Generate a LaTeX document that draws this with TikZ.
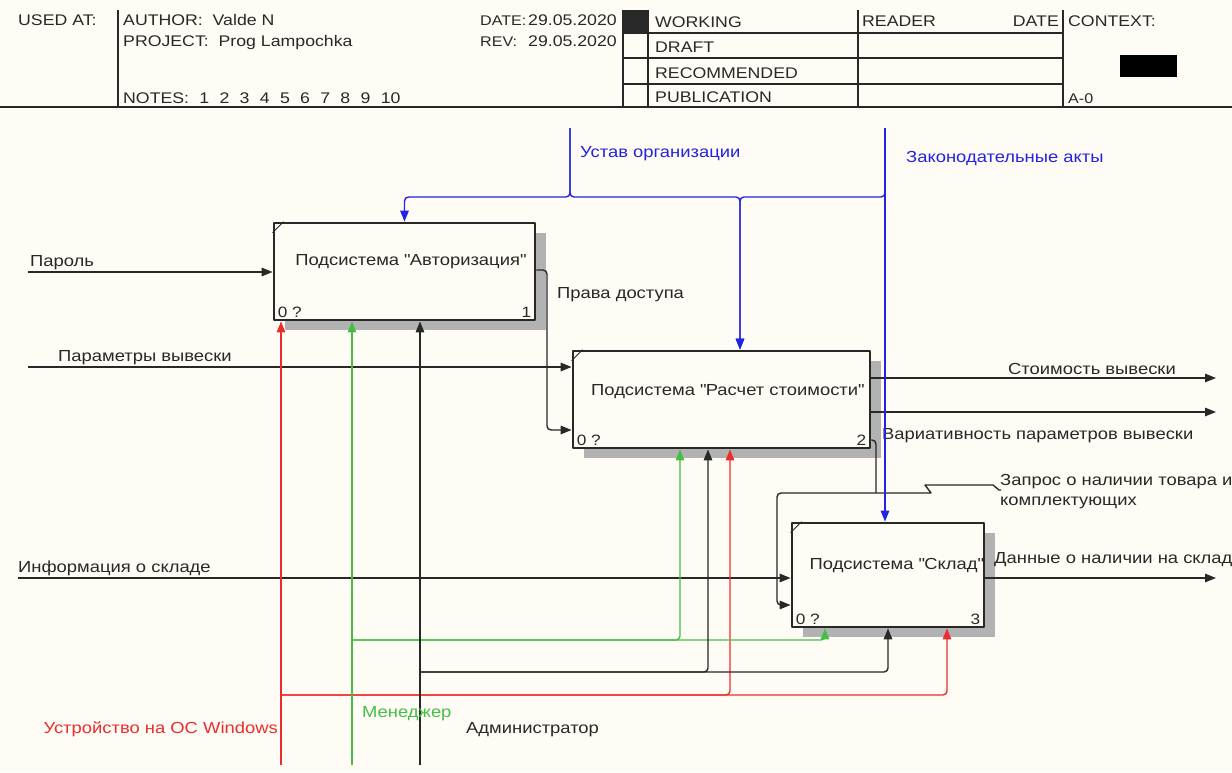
\documentclass[tikz,border=0pt]{standalone}
\usepackage{fontspec}
\setmainfont{Liberation Sans}[FakeStretch=1.15]
\usetikzlibrary{arrows.meta,shadows}
\definecolor{paper}{RGB}{254,252,245}
\definecolor{ink}{RGB}{40,40,40}
\definecolor{ctlblue}{RGB}{35,35,225}
\definecolor{mechred}{RGB}{235,45,45}
\definecolor{mechgreen}{RGB}{70,190,70}
\definecolor{shade}{RGB}{178,178,178}
\newcommand{\qq}{\textquotedbl{}}
\newcommand{\gap}{\hspace{10.3pt}}
\begin{document}
\begin{tikzpicture}[x=1pt, y=-1pt, line join=round, font=\fontsize{16}{19}\selectfont]
	\tikzset{
		func/.style={draw=ink, line width=2.8pt, fill=paper, inner sep=0pt,
			drop shadow={shadow xshift=11pt, shadow yshift=-10pt, opacity=1, fill=shade}},
		boxtitle/.style={text=ink, inner sep=0pt},
		boxnum/.style={text=ink, inner sep=0pt, font=\fontsize{15}{17}\selectfont},
		lbl/.style={text=ink, inner sep=0pt, anchor=base west},
		hdr/.style={lbl, font=\fontsize{15.4}{17}\selectfont},
		frame/.style={draw=ink, line width=1.2pt},
		flow/.style={draw=ink, line width=1.4pt, rounded corners=4pt, -{Triangle[length=11pt,width=8.5pt]}},
		ctl/.style={flow, draw=ctlblue},
		redflow/.style={flow, draw=mechred},
		greenflow/.style={flow, draw=mechgreen}
	}
	\fill[paper] (0,0) rectangle (1232,772);
	\useasboundingbox (0,0) rectangle (1232,772);
	% header
	\draw[frame] (0,107) -- (1232,107);
	\draw[frame] (118,10) -- (118,107);
	\draw[frame] (623,10) -- (623,107) (648,10) -- (648,107) (858,10) -- (858,107) (1063,10) -- (1063,107);
	\draw[frame] (623,33) -- (1063,33) (623,58) -- (1063,58) (623,84) -- (1063,84);
	\fill[ink] (624,10) rectangle (648,32);
	\fill[black] (1120,55) rectangle (1177,77);
	\node[hdr] (usedat) at (18,25) {USED AT:};
	\node[hdr] (author) at (123,25) {AUTHOR:\ \ Valde N};
	\node[hdr] (project) at (123,46) {PROJECT:\ \ Prog Lampochka};
	\node[hdr] (notes) at (123,103) {NOTES:\gap 1\gap 2\gap 3\gap 4\gap 5\gap 6\gap 7\gap 8\gap 9\gap 10};
	\node[hdr, font=\fontsize{14}{17}\selectfont] (date) at (480,25) {DATE:};
	\node[hdr, anchor=base east] (datev) at (617,25) {29.05.2020};
	\node[hdr, font=\fontsize{14}{17}\selectfont] (rev) at (480,46) {REV:};
	\node[hdr, anchor=base east] (revv) at (617,46) {29.05.2020};
	\node[hdr] (working) at (655,27) {WORKING};
	\node[hdr] (draft) at (655,52) {DRAFT};
	\node[hdr] (recom) at (655,78) {RECOMMENDED};
	\node[hdr] (public) at (655,102) {PUBLICATION};
	\node[hdr] (reader) at (862,26) {READER};
	\node[hdr, anchor=base east] (rdate) at (1059,26) {DATE};
	\node[hdr] (context) at (1068,26) {CONTEXT:};
	\node[hdr, font=\fontsize{14}{16}\selectfont] (node) at (1068,103) {A-0};
	% function boxes
	\node[func, minimum width=261pt, minimum height=97pt] (b1) at (404.5,271.5) {};
	\node[func, minimum width=297pt, minimum height=97pt] (b2) at (721.5,399.5) {};
	\node[func, minimum width=192pt, minimum height=104pt] (b3) at (888,575) {};
	\node[boxtitle] (t1) at ([yshift=9.5pt, xshift=6pt]b1.center) {Подсистема \qq Авторизация\qq};
	\node[boxtitle] (t2) at ([yshift=7.5pt, xshift=6pt]b2.center) {Подсистема \qq Расчет стоимости\qq};
	\node[boxtitle, anchor=east] (t3) at ([yshift=10pt, xshift=-2pt]b3.east) {Подсистема \qq Склад\qq};
	\foreach \b/\n in {b1/1, b2/2, b3/3} {
		\draw[ink, line width=1pt] ([yshift=-11pt]\b.north west) -- ([xshift=11pt]\b.north west);
		\node[boxnum, anchor=south west] (\b q) at ([xshift=5pt, yshift=4pt]\b.south west) {0 ?};
		\node[boxnum, anchor=south east] (\b n) at ([xshift=-5pt, yshift=4pt]\b.south east) {\n};
	}
	% inputs
	\coordinate (pw) at (28,272);
	\coordinate (pv) at (28,367);
	\coordinate (sk) at (18,578);
	\draw[flow] (pw) -- (pw -| b1.west);
	\draw[flow] (pv) -- (pv -| b2.west);
	\draw[flow] (sk) -- (sk -| b3.west);
	\draw[flow] ([yshift=1.5pt]b1.east) -| (547,430) -- ([yshift=-30.5pt]b2.west);
	\node[lbl] (lpw) at (30,266) {Пароль};
	\node[lbl] (lpv) at (58,361) {Параметры вывески};
	\node[lbl] (lsk) at (18,572) {Информация о складе};
	\node[lbl] (lpr) at (557,298) {Права доступа};
	% outputs
	\coordinate (cost) at (1216,378);
	\coordinate (var) at (1216,412);
	\coordinate (dn) at (1216,578);
	\coordinate (q) at (876,493);
	\draw[flow] (b2.east |- cost) -- (cost);
	\draw[flow] (b2.east |- var) -- (var);
	\draw[flow] (b3.east |- dn) -- (dn);
	\draw[flow, -] ([yshift=-40.5pt]b2.east) -| (q);
	\draw[flow] (q) -- (777,493) |- ([yshift=-30pt]b3.west);
	\draw[flow, -, rounded corners=0pt] (q) -- (931,493) -- (925,485) -- (993,485) -- (999,490) -- (1001,490);
	\node[lbl] (lcost) at (1008,374) {Стоимость вывески};
	\node[lbl] (lvar) at (882,439) {Вариативность параметров вывески};
	\node[lbl] (lq) at (1000,485) {Запрос о наличии товара и};
	\node[lbl] (lq2) at (1000,505) {комплектующих};
	\node[lbl] (ldn) at (994,563) {Данные о наличии на склад};
	% controls
	\coordinate (ust) at (570,128);
	\coordinate (zak) at (885,128);
	\draw[ctl] (ust) -- (570,197) -| (b1.north);
	\draw[ctl] (ust) -- (570,197) -| ([xshift=18.5pt]b2.north);
	\draw[ctl] (zak) -- (885,197) -| ([xshift=18.5pt]b2.north);
	\draw[ctl] (zak) -- (zak |- b3.north);
	\node[lbl, text=ctlblue] (lust) at (580,157) {Устав организации};
	\node[lbl, text=ctlblue] (lzak) at (906,162) {Законодательные акты};
	% mechanisms
	\coordinate (rb) at (281,765);
	\coordinate (rr) at (281,695);
	\coordinate (gb) at (352,765);
	\coordinate (gg) at (352,640);
	\coordinate (kb) at (420,765);
	\coordinate (kk) at (420,672);
	\draw[redflow] (rb) -- (rb |- b1.south);
	\draw[redflow] (rr) -| ([xshift=8.5pt]b2.south);
	\draw[redflow] (rr) -| ([xshift=59pt]b3.south);
	\draw[greenflow] (gb) -- (gb |- b1.south);
	\draw[greenflow] (gg) -| ([xshift=-41.5pt]b2.south);
	\draw[greenflow] (gg) -| ([xshift=-63pt]b3.south);
	\draw[flow] (kb) -- (kb |- b1.south);
	\draw[flow] (kk) -| ([xshift=-13.5pt]b2.south);
	\draw[flow] (kk) -| (b3.south);
	\node[lbl, anchor=base east, text=mechred] (lrd) at (278,733) {Устройство на ОС Windows};
	\node[lbl, text=mechgreen] (lgr) at (362,717) {Менеджер};
	\node[lbl] (lad) at (466,733) {Администратор};
\end{tikzpicture}
\end{document}
